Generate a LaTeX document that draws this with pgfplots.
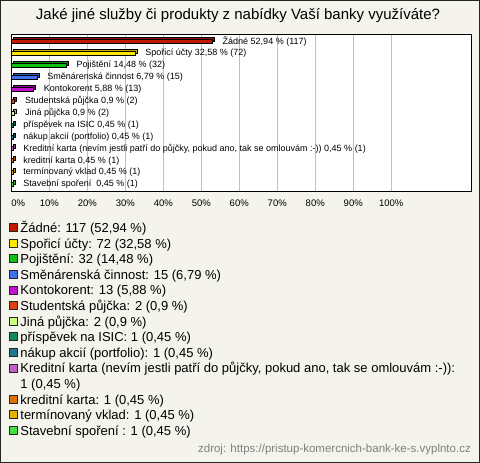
\documentclass[border=0pt]{standalone}
\usepackage{fontspec}
\setmainfont{Liberation Sans}
\usepackage{pgfplots}
\pgfplotsset{compat=1.18}
\definecolor{bg}{HTML}{F4F3EC}
\definecolor{c1}{HTML}{C01A00}
\definecolor{c2}{HTML}{FFE800}
\definecolor{c3}{HTML}{10C010}
\definecolor{c4}{HTML}{4070F0}
\definecolor{c5}{HTML}{C010D0}
\definecolor{c6}{HTML}{E04010}
\definecolor{c7}{HTML}{C8FF80}
\definecolor{c8}{HTML}{108860}
\definecolor{c9}{HTML}{207890}
\definecolor{c10}{HTML}{C060C8}
\definecolor{c11}{HTML}{E07000}
\definecolor{c12}{HTML}{E8B000}
\definecolor{c13}{HTML}{40E040}
\newcommand{\mybar}[4]{%
  \addplot[forget plot, fill=#1!75!black, draw=black, line width=0.6pt, xshift=2pt, yshift=2pt] coordinates {(#2,#3)};
  \addplot[fill=#1, draw=black, line width=0.6pt,
    legend image code/.code={\draw[fill=#1, draw=black!85, line width=0.6pt] (0pt,-2pt) rectangle (8pt,6pt);},
    nodes near coords={#4},
    nodes near coords style={font=\fontsize{9}{10}\selectfont, anchor=west, inner sep=0pt, xshift=10pt, text=black}]
    coordinates {(#2,#3)};
}
\begin{document}
\begin{tikzpicture}
\useasboundingbox (0pt,0pt) rectangle (480pt,463pt);
\fill[bg] (0pt,0pt) rectangle (480pt,463pt);
\draw[black!85, line width=1pt] (0.5pt,0.5pt) rectangle (479.5pt,462.5pt);
\begin{axis}[
  at={(11.3pt,272pt)}, anchor=south west,
  scale only axis, width=459.7pt, height=156.3pt,
  xmin=0, xmax=121, ymin=0.45, ymax=13.59,
  xbar, bar width=4pt, bar shift=0pt,
  axis background/.style={fill=white},
  axis line style={black, line width=0.8pt},
  xtick={0,10,20,30,40,50,60,70,80,90,100},
  xticklabels={\makebox[0pt][l]{0\%},10\%,20\%,30\%,40\%,50\%,60\%,70\%,80\%,90\%,100\%},
  ytick=\empty,
  xmajorgrids, grid style={black!25, line width=0.6pt},
  major tick length=0pt,
  xticklabel style={font=\fontsize{9.5}{11}\selectfont, anchor=base, yshift=-15.5pt},
  /pgf/number format/assume math mode=true,
  clip=false,
  legend cell align=left,
  legend style={at={(-0.00435,-0.2047)}, anchor=north west, draw=none, fill=none,
    inner sep=0pt, outer sep=0pt, row sep=2.6pt, column sep=2.5pt,
    font=\fontsize{13}{15.6}\selectfont,
    nodes={inner sep=0pt, text height=9.5pt, text depth=3.5pt}},
]
\mybar{c1}{52.94}{13}{Žádné 52,94 \% (117)}
\addlegendentry{Žádné: 117 (52,94 \%)}
\mybar{c2}{32.58}{12}{Spořicí účty 32,58 \% (72)}
\addlegendentry{Spořicí účty: 72 (32,58 \%)}
\mybar{c3}{14.48}{11}{Pojištění 14,48 \% (32)}
\addlegendentry{Pojištění: 32 (14,48 \%)}
\mybar{c4}{6.79}{10}{Směnárenská činnost 6,79 \% (15)}
\addlegendentry{Směnárenská činnost: 15 (6,79 \%)}
\mybar{c5}{5.88}{9}{Kontokorent 5,88 \% (13)}
\addlegendentry{Kontokorent: 13 (5,88 \%)}
\mybar{c6}{0.9}{8}{Studentská půjčka 0,9 \% (2)}
\addlegendentry{Studentská půjčka: 2 (0,9 \%)}
\mybar{c7}{0.9}{7}{Jiná půjčka 0,9 \% (2)}
\addlegendentry{Jiná půjčka: 2 (0,9 \%)}
\mybar{c8}{0.45}{6}{příspěvek na ISIC 0,45 \% (1)}
\addlegendentry{příspěvek na ISIC: 1 (0,45 \%)}
\mybar{c9}{0.45}{5}{nákup akcií (portfolio) 0,45 \% (1)}
\addlegendentry{nákup akcií (portfolio): 1 (0,45 \%)}
\mybar{c10}{0.45}{4}{Kreditní karta (nevím jestli patří do půjčky, pokud ano, tak se omlouvám :-)) 0,45 \% (1)}
\addlegendentry{Kreditní karta (nevím jestli patří do půjčky, pokud ano, tak se omlouvám :-)):}
\addlegendimage{empty legend}
\addlegendentry{1 (0,45 \%)}
\mybar{c11}{0.45}{3}{kreditní karta 0,45 \% (1)}
\addlegendentry{kreditní karta: 1 (0,45 \%)}
\mybar{c12}{0.45}{2}{termínovaný vklad 0,45 \% (1)}
\addlegendentry{termínovaný vklad: 1 (0,45 \%)}
\mybar{c13}{0.45}{1}{Stavební spoření\ \ 0,45 \% (1)}
\addlegendentry{Stavební spoření : 1 (0,45 \%)}
\end{axis}
\node[font=\fontsize{15}{18}\selectfont] at (238pt,447pt) {Jaké jiné služby či produkty z nabídky Vaší banky využíváte?};
\node[font=\fontsize{11.5}{13}\selectfont, text=black!50, anchor=base east, inner sep=0pt] at (471pt,10pt) {zdroj: https://pristup-komercnich-bank-ke-s.vyplnto.cz};
\end{tikzpicture}
\end{document}
